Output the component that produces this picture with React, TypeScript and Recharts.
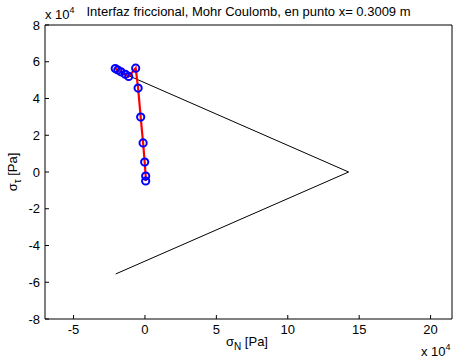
import React from 'react'
import { ComposedChart, Line, XAxis, YAxis } from 'recharts'

// axis ticks (values in units of 1e4 Pa)
const xTicks = [-5, 0, 5, 10, 15, 20]
const yTicks = [-8, -6, -4, -2, 0, 2, 4, 6, 8]

// stress path at x = 0.3009 m
const sigmaN = [0.05, 0.05, -0.02, -0.13, -0.3, -0.48, -0.65, -1.14, -1.38, -1.68, -1.9, -2.08]
const sigmaT = [-0.49, -0.22, 0.54, 1.58, 2.99, 4.57, 5.65, 5.2, 5.32, 5.45, 5.55, 5.63]

// Mohr Coulomb envelope
const envN = [-2.05, 14.26, -2.05]
const envT = [5.55, 0, -5.55]

const pathData = sigmaN.map((x, i) => ({ x, y: sigmaT[i] }))
const envData = envN.map((x, i) => ({ x, y: envT[i] }))

const font = 'Liberation Sans, Arial, Helvetica, sans-serif'
const tickStyle = { fill: '#000', fontSize: 13, fontFamily: font }

export default function App() {
  return (
    <div style={{ position: 'absolute', left: 0, top: 0, width: 458, height: 362, background: '#fff' }}>
      <ComposedChart width={458} height={362} margin={{ top: 24, right: 0, bottom: 0, left: 0 }}>
        <XAxis
          xAxisId="b"
          type="number"
          dataKey="x"
          orientation="bottom"
          domain={[-7, 21.5]}
          ticks={xTicks}
          interval={0}
          allowDataOverflow
          height={43}
          tickSize={-4}
          tickMargin={10}
          tick={tickStyle}
          axisLine={{ stroke: '#000' }}
          tickLine={{ stroke: '#000' }}
        />
        <XAxis
          xAxisId="t"
          type="number"
          orientation="top"
          domain={[-7, 21.5]}
          ticks={xTicks}
          interval={0}
          allowDataOverflow
          height={1}
          tickSize={-4}
          tick={false}
          axisLine={{ stroke: '#000' }}
          tickLine={{ stroke: '#000' }}
        />
        <YAxis
          yAxisId="l"
          type="number"
          orientation="left"
          domain={[-8, 8]}
          ticks={yTicks}
          interval={0}
          allowDataOverflow
          width={45}
          tickSize={-4}
          tickMargin={9}
          tick={tickStyle}
          axisLine={{ stroke: '#000' }}
          tickLine={{ stroke: '#000' }}
        />
        <YAxis
          yAxisId="r"
          type="number"
          orientation="right"
          domain={[-8, 8]}
          ticks={yTicks}
          interval={0}
          allowDataOverflow
          width={6}
          tickSize={-4}
          tick={false}
          axisLine={{ stroke: '#000' }}
          tickLine={{ stroke: '#000' }}
        />
        <Line
          xAxisId="b"
          yAxisId="l"
          data={envData}
          dataKey="y"
          type="linear"
          stroke="#000"
          strokeWidth={1}
          dot={false}
          activeDot={false}
          isAnimationActive={false}
        />
        <Line
          xAxisId="b"
          yAxisId="l"
          data={pathData}
          dataKey="y"
          type="linear"
          stroke="none"
          dot={{ r: 3.6, stroke: '#0000ff', strokeWidth: 2, fill: 'none' }}
          activeDot={false}
          isAnimationActive={false}
        />
        <Line
          xAxisId="b"
          yAxisId="l"
          data={pathData}
          dataKey="y"
          type="linear"
          stroke="#ff0000"
          strokeWidth={2.2}
          dot={false}
          activeDot={false}
          isAnimationActive={false}
        />
      </ComposedChart>
      <svg
        width={458}
        height={362}
        style={{ position: 'absolute', left: 0, top: 0, pointerEvents: 'none' }}
        fontFamily={font}
        fontSize={13}
      >
        <text x={248.5} y={16} textAnchor="middle" fill="#000">
          Interfaz friccional, Mohr Coulomb, en punto x= 0.3009 m
        </text>
        <text x={45} y={19} fill="#000">
          x 10
          <tspan fontSize={9} dy={-6}>4</tspan>
        </text>
        <text x={421} y={356} fill="#000">
          x 10
          <tspan fontSize={9} dy={-6}>4</tspan>
        </text>
        <text x={247} y={346} textAnchor="middle" fill="#000">
          σ<tspan fontSize={10} dy={4}>N</tspan>
          <tspan dy={-4}> [Pa]</tspan>
        </text>
        <text transform="translate(17,172) rotate(-90)" textAnchor="middle" fill="#000">
          σ<tspan fontSize={10} dy={4}>τ</tspan>
          <tspan dy={-4}> [Pa]</tspan>
        </text>
      </svg>
    </div>
  )
}
